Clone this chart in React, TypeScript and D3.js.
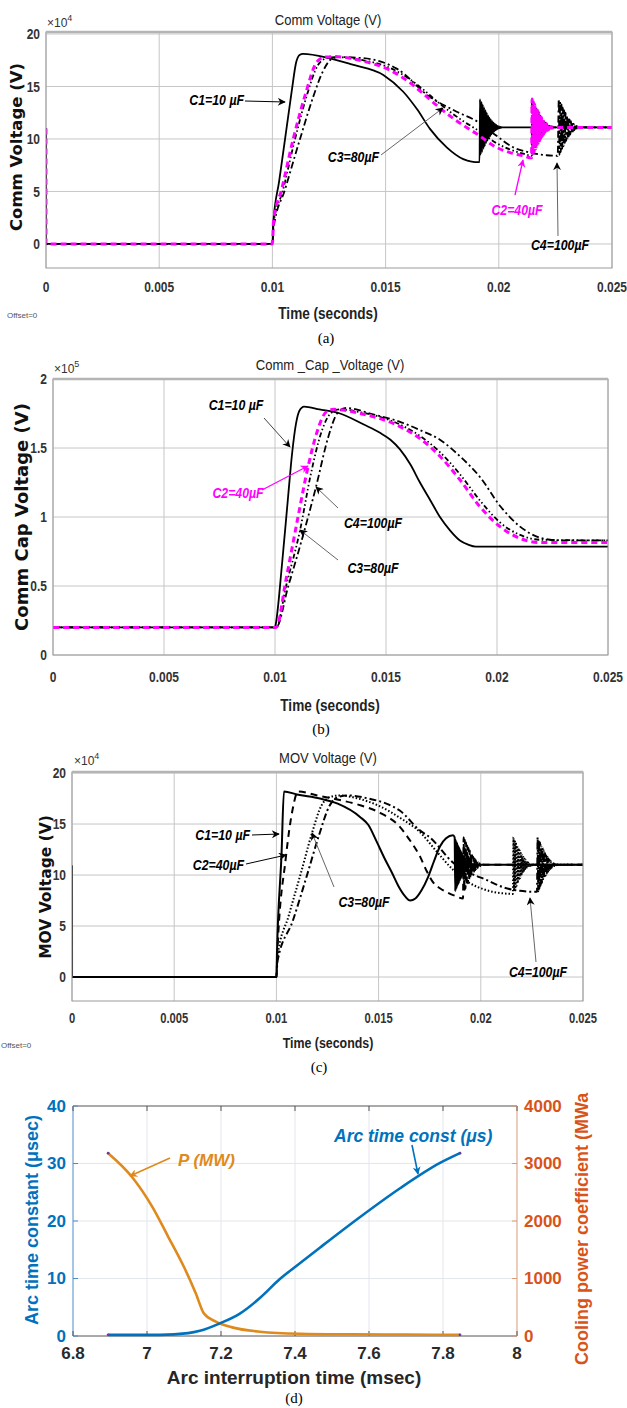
import React from 'react';
import * as d3 from 'd3';

// ---------------- DATA ----------------
// time in ms, values in axis units (×1e4 V for a/c, ×1e5 V for b)
const X_TICKS = [0, 0.005, 0.01, 0.015, 0.02, 0.025];
const X_TICK_LABELS = ['0', '0.005', '0.01', '0.015', '0.02', '0.025'];

// Panel (a) Comm Voltage
const A_Y_TICKS = [0, 5, 10, 15, 20];
const A_C1_T = [0, 0.001, 10.0, 10.04, 10.3, 10.56, 10.85, 11.05, 11.2, 11.35, 12.5, 13.5, 14.9, 15.78, 16.4, 16.96, 17.7, 18.43, 18.8, 19.1, 19.15];
const A_C1_V = [11, 0, 0, 2.0, 6.0, 10.0, 14.5, 17.3, 18.0, 18.1, 17.7, 17.1, 16.1, 14.5, 12.8, 10.96, 9.2, 8.08, 7.85, 7.8, 7.8];
const A_C2_T = [0, 0.001, 10.0, 10.05, 10.41, 10.92, 11.45, 11.95, 12.3, 12.75, 14.02, 15.05, 15.93, 16.67, 17.26, 17.84, 18.43, 19.02, 19.9, 20.5, 21.08, 21.45];
const A_C2_V = [11, 0, 0, 2.2, 5.2, 10.0, 14.2, 17.3, 17.8, 17.85, 17.4, 16.7, 15.6, 14.3, 13.2, 12.2, 11.3, 10.5, 9.2, 8.7, 8.4, 8.2];
const A_C3_T = [0, 0.001, 10.0, 10.05, 10.45, 11.0, 11.5, 12.0, 12.4, 12.8, 14.0, 15.05, 15.93, 16.67, 17.26, 17.84, 18.43, 19.02, 19.9, 20.5, 21.08, 21.45];
const A_C3_V = [11, 0, 0, 2.0, 5.0, 10.0, 14.0, 17.0, 17.7, 17.8, 17.5, 16.9, 15.9, 14.7, 13.6, 12.6, 11.7, 10.9, 9.6, 9.0, 8.6, 8.4];
const A_C4_T = [0, 0.001, 10.0, 10.05, 10.56, 11.22, 11.8, 12.2, 12.6, 12.9, 14.02, 15.49, 16.96, 18.14, 19.1, 19.9, 20.64, 21.38, 22.1, 22.6];
const A_C4_V = [11, 0, 0, 1.5, 5.2, 10.0, 14.0, 16.3, 17.6, 17.8, 17.7, 16.7, 14.0, 12.6, 11.6, 10.3, 9.2, 8.7, 8.45, 8.4];
const A_BURST_T = [19.17, 21.47, 21.47, 22.65]; // C1..C4 ringing onsets (ms)
const A_SETTLE = 11.1;

// Panel (b) Comm Cap Voltage
const B_Y_TICKS = [0, 0.5, 1, 1.5, 2];
const B_Y_TICK_LABELS = ['0', '0.5', '1', '1.5', '2'];
const B_C1_T = [0, 10.0, 10.01, 10.32, 10.59, 10.77, 10.95, 11.1, 11.31, 12.0, 12.93, 14.0, 14.73, 15.2, 15.63, 16.1, 16.53, 17.0, 17.43, 17.9, 18.33, 18.7, 19.05, 25];
const B_C1_V = [0.2, 0.2, 0.205, 0.665, 1.147, 1.46, 1.68, 1.77, 1.8, 1.78, 1.75, 1.67, 1.61, 1.56, 1.49, 1.38, 1.25, 1.12, 1.0, 0.9, 0.83, 0.8, 0.785, 0.785];
const B_C2_T = [0, 10.0, 10.05, 10.5, 11.0, 11.49, 11.9, 12.3, 12.66, 13.83, 15.63, 16.6, 17.43, 18.33, 19.23, 20.14, 21.04, 21.94, 25];
const B_C2_V = [0.2, 0.2, 0.2, 0.55, 0.97, 1.365, 1.62, 1.76, 1.78, 1.75, 1.655, 1.56, 1.44, 1.27, 1.075, 0.93, 0.845, 0.815, 0.815];
const B_C3_T = [0, 10.0, 10.05, 10.5, 11.13, 11.6, 12.1, 12.5, 12.9, 13.83, 15.63, 16.6, 17.43, 18.33, 19.23, 20.14, 21.04, 21.94, 25];
const B_C3_V = [0.2, 0.2, 0.2, 0.5, 0.906, 1.3, 1.62, 1.75, 1.78, 1.76, 1.67, 1.58, 1.47, 1.31, 1.12, 0.96, 0.87, 0.835, 0.83];
const B_C4_T = [0, 10.0, 10.05, 10.6, 11.2, 11.85, 12.4, 12.8, 13.2, 14.5, 15.63, 16.53, 17.43, 18.33, 19.23, 20.14, 21.04, 21.94, 22.8, 25];
const B_C4_V = [0.2, 0.2, 0.2, 0.5, 0.83, 1.22, 1.58, 1.75, 1.79, 1.74, 1.69, 1.63, 1.56, 1.44, 1.29, 1.08, 0.93, 0.85, 0.83, 0.83];

// Panel (c) MOV Voltage
const C_Y_TICKS = [0, 5, 10, 15, 20];
const C_C1_T = [0, 0.001, 10.0, 10.03, 10.25, 10.37, 11.0, 12.13, 13.0, 14.09, 14.5, 14.9, 15.3, 15.66, 16.0, 16.3, 16.54, 16.8, 17.1, 17.42, 17.7, 18.0, 18.3, 18.64];
const C_C1_V = [10.9, 0, 0, 2.5, 12.0, 18.2, 17.9, 17.5, 17.0, 15.7, 14.9, 13.3, 11.6, 10.2, 8.8, 7.9, 7.5, 7.7, 8.5, 9.8, 11.3, 12.8, 13.6, 13.9];
const C_C2_T = [0, 0.001, 10.0, 10.05, 10.45, 10.8, 11.06, 12.0, 13.11, 14.0, 15.07, 16.05, 16.5, 17.03, 17.35, 17.66, 18.0, 18.35, 18.75, 19.13];
const C_C2_V = [10.9, 0, 0, 2.5, 11.5, 16.5, 18.2, 17.8, 17.35, 16.9, 16.1, 14.7, 13.5, 11.8, 10.4, 9.3, 8.7, 8.3, 7.95, 7.7];
const C_C3_T = [0, 0.001, 10.0, 10.05, 10.6, 11.2, 11.74, 12.2, 12.7, 13.1, 14.0, 15.0, 16.05, 17.03, 17.8, 18.65, 19.47, 20.3, 21.1, 21.57];
const C_C3_V = [10.9, 0, 0, 2.0, 6.0, 10.2, 14.1, 16.8, 17.7, 17.8, 17.5, 16.8, 15.6, 14.2, 12.4, 10.5, 9.2, 8.5, 8.2, 8.15];
const C_C4_T = [0, 0.001, 10.0, 10.05, 10.8, 11.5, 12.1, 12.6, 13.1, 13.5, 14.5, 15.5, 16.05, 17.0, 17.5, 18.65, 19.47, 20.3, 21.1, 21.9, 22.75];
const C_C4_V = [10.9, 0, 0, 1.5, 5.5, 10.0, 14.0, 16.8, 17.7, 17.8, 17.5, 16.9, 16.3, 14.4, 13.7, 11.2, 10.2, 9.5, 8.8, 8.45, 8.35];
const C_BURST_T = [18.72, 19.16, 21.6, 22.78];
const C_SETTLE = 11.0;

// Ringing (deviation from settled value, ×1e4 V) read from the bursts
const RING = [2.7, -2.6, 2.45, -2.35, 2.2, -2.05, 1.9, -1.8, 1.65, -1.5, 1.4, -1.28, 1.15, -1.05, 0.95, -0.85, 0.76, -0.68, 0.6, -0.52, 0.45, -0.39, 0.33, -0.28, 0.23, -0.19, 0.15, -0.12, 0.09, -0.07, 0.05, -0.03, 0.02, 0];
const RING_DT = 0.03; // ms

// Panel (d)
const D_X_TICKS = [6.8, 7, 7.2, 7.4, 7.6, 7.8, 8];
const D_YL_TICKS = [0, 10, 20, 30, 40];
const D_YR_TICKS = [0, 1000, 2000, 3000, 4000];
const D_TAU_X = [6.895, 6.95, 7.035, 7.111, 7.143, 7.197, 7.251, 7.305, 7.359, 7.414, 7.468, 7.576, 7.684, 7.792, 7.846];
const D_TAU_Y = [0.2, 0.2, 0.2, 0.5, 0.9, 2.2, 3.9, 6.6, 9.9, 12.7, 15.4, 20.7, 25.7, 30.1, 31.8];
const D_P_X = [6.895, 6.959, 7.014, 7.057, 7.1, 7.132, 7.154, 7.186, 7.23, 7.305, 7.414, 7.55, 7.7, 7.846];
const D_P_Y = [3180, 2770, 2250, 1730, 1200, 740, 390, 250, 150, 75, 40, 30, 25, 20];

// ---------------- HELPERS ----------------
const SANS = "'Liberation Sans', Arial, sans-serif";
const WIDE = "'DejaVu Sans', Verdana, sans-serif";
const SERIF = "'Liberation Serif', 'Times New Roman', serif";

type P = [number, number];
function build(T: number[], V: number[], burstT?: number, settle?: number): P[] {
  const pts: P[] = T.map((t, i) => [t, V[i]] as P);
  if (burstT != null && settle != null) {
    RING.forEach((r, i) => pts.push([burstT + i * RING_DT, settle + r]));
    pts.push([25, settle]);
  }
  return pts;
}

const Txt = (p: any) => {
  const { x, y, children, size = 14, weight = 'normal', italic = false, fill = '#000', anchor = 'middle', sx = 1, rot = 0, family = SANS } = p;
  return (
    <text transform={`translate(${x},${y}) rotate(${rot}) scale(${sx},1)`} fontSize={size} fontWeight={weight}
      fontStyle={italic ? 'italic' : 'normal'} fill={fill} textAnchor={anchor} fontFamily={family} dy="0.35em">
      {children}
    </text>
  );
};

const Arrow = ({ x1, y1, x2, y2, stroke = '#000', head = 'k', w = 1 }: any) => (
  <line x1={x1} y1={y1} x2={x2} y2={y2} stroke={stroke} strokeWidth={w} markerEnd={`url(#ah-${head})`} />
);

type Style = { stroke: string; w: number; dash?: string };

function ScopePanel(props: any) {
  const { id, xr, yd, yr, yTicks, yLabels, series, styles, order } = props;
  const xs = d3.scaleLinear().domain([0, 0.025]).range(xr);
  const ys = d3.scaleLinear().domain(yd).range(yr);
  const line = d3.line<P>().x(d => xs(d[0] / 1000)).y(d => ys(d[1])).curve(d3.curveMonotoneX);
  const [x0, x1] = xr; const [yb, yt] = yr;
  return (
    <g>
      <defs><clipPath id={`clip-${id}`}><rect x={x0} y={yt} width={x1 - x0} height={yb - yt} /></clipPath></defs>
      <rect x={x0} y={yt} width={x1 - x0} height={yb - yt} fill="#fff" />
      {X_TICKS.map((t, i) => <line key={'gx' + i} x1={xs(t)} x2={xs(t)} y1={yt} y2={yb} stroke="#c6c6c6" strokeWidth={1} />)}
      {yTicks.map((t: number, i: number) => <line key={'gy' + i} x1={x0} x2={x1} y1={ys(t)} y2={ys(t)} stroke="#c6c6c6" strokeWidth={1} />)}
      <g clipPath={`url(#clip-${id})`}>
        {order.map((k: number) => {
          const s: Style = styles[k];
          return <path key={k} d={line(series[k]) || ''} fill="none" stroke={s.stroke} strokeWidth={s.w}
            strokeDasharray={s.dash} strokeLinejoin="round" />;
        })}
      </g>
      <rect x={x0} y={yt} width={x1 - x0} height={yb - yt} fill="none" stroke="#9a9a9a" strokeWidth={1} />
      <line x1={x0} x2={x1} y1={yt} y2={yt} stroke="#b4b4b4" strokeWidth={2.5} />
      {yTicks.map((t: number, i: number) => (
        <Txt key={'yl' + i} x={x0 - 6} y={ys(t)} anchor="end" size={15} weight="bold" sx={0.8} fill="#333">{yLabels[i]}</Txt>
      ))}
      {X_TICKS.map((t, i) => (
        <Txt key={'xl' + i} x={xs(t)} y={props.xTickY} size={props.tickSize || 15} weight="bold" sx={0.8} fill="#333">{X_TICK_LABELS[i]}</Txt>
      ))}
    </g>
  );
}

export default function App() {
  const W = 627, H = 1408;

  const aSeries = [
    build(A_C1_T, A_C1_V, A_BURST_T[0], A_SETTLE),
    build(A_C2_T, A_C2_V, A_BURST_T[1], A_SETTLE),
    build(A_C3_T, A_C3_V, A_BURST_T[2], A_SETTLE),
    build(A_C4_T, A_C4_V, A_BURST_T[3], A_SETTLE),
  ];
  const bSeries = [build(B_C1_T, B_C1_V), build(B_C2_T, B_C2_V), build(B_C3_T, B_C3_V), build(B_C4_T, B_C4_V)];
  const cSeries = [
    build(C_C1_T, C_C1_V, C_BURST_T[0], C_SETTLE),
    build(C_C2_T, C_C2_V, C_BURST_T[1], C_SETTLE),
    build(C_C3_T, C_C3_V, C_BURST_T[2], C_SETTLE),
    build(C_C4_T, C_C4_V, C_BURST_T[3], C_SETTLE),
  ];
  const abStyles: Style[] = [
    { stroke: '#000', w: 1.8 },
    { stroke: '#ff00ff', w: 3, dash: '6,4' },
    { stroke: '#000', w: 1.8, dash: '5,2.5,1.5,2.5,1.5,2.5' },
    { stroke: '#000', w: 1.8, dash: '7,3,2,3' },
  ];
  const cStyles: Style[] = [
    { stroke: '#000', w: 2 },
    { stroke: '#000', w: 2, dash: '7,5' },
    { stroke: '#000', w: 2, dash: '1.5,2' },
    { stroke: '#000', w: 2, dash: '7,3,2,3' },
  ];

  // panel d
  const dx = d3.scaleLinear().domain([6.8, 8]).range([73, 517]);
  const dyL = d3.scaleLinear().domain([0, 40]).range([1336, 1106]);
  const dyR = d3.scaleLinear().domain([0, 4000]).range([1336, 1106]);
  const tau: P[] = D_TAU_X.map((x, i) => [x, D_TAU_Y[i]]);
  const pw: P[] = D_P_X.map((x, i) => [x, D_P_Y[i]]);
  const tauLine = d3.line<P>().x(d => dx(d[0])).y(d => dyL(d[1])).curve(d3.curveMonotoneX);
  const pLine = d3.line<P>().x(d => dx(d[0])).y(d => dyR(d[1])).curve(d3.curveMonotoneX);
  const BLUE = '#0072BD', ORANGE = '#DE8A1C', RED = '#D95319';

  return (
    <svg width={W} height={H} style={{ position: 'absolute', left: 0, top: 0, background: '#fff' }} xmlns="http://www.w3.org/2000/svg">
      <defs>
        {[['k', '#000'], ['m', '#ff00ff'], ['o', ORANGE], ['b', BLUE]].map(([k, c]) => (
          <marker key={k} id={`ah-${k}`} viewBox="0 0 10 10" refX="9" refY="5" markerWidth="9" markerHeight="8"
            markerUnits="userSpaceOnUse" orient="auto">
            <path d="M0,0 L10,5 L0,10 L3,5 Z" fill={c} />
          </marker>
        ))}
      </defs>
      <rect x={0} y={0} width={W} height={H} fill="#fff" />

      {/* ---------- (a) ---------- */}
      <Txt x={328} y={20} size={15} sx={0.87} fill="#222">Comm Voltage (V)</Txt>
      <text x={47} y={27} fontSize={12} fontFamily={SANS} fill="#333">×10<tspan dy={-6} fontSize={9}>4</tspan></text>
      <ScopePanel id="a" xr={[46, 612]} yd={[-2.29, 20.19]} yr={[268, 32]} yTicks={A_Y_TICKS} yLabels={A_Y_TICKS.map(String)}
        series={aSeries} styles={abStyles} order={[3, 2, 0, 1]} xTickY={287} />
      <Txt x={328} y={313} size={17} weight="bold" sx={0.8} fill="#222">Time (seconds)</Txt>
      <Txt x={7} y={315} size={8} anchor="start" fill="#555">Offset=0</Txt>
      <Txt x={326} y={338} size={15} family={SERIF}>(a)</Txt>
      <Txt x={16} y={147} size={16.5} weight="bold" family={WIDE} rot={-90} fill="#111">Comm Voltage (V)</Txt>
      <Txt x={244} y={100} size={14} weight="bold" italic anchor="end" sx={0.88}>C1=10 µF</Txt>
      <Arrow x1={245} y1={101} x2={285} y2={102} />
      <Txt x={379} y={157} size={14} weight="bold" italic anchor="end" sx={0.88}>C3=80µF</Txt>
      <Arrow x1={381} y1={155} x2={443} y2={108} stroke="#666" />
      <Txt x={517} y={210} size={14} weight="bold" italic sx={0.88} fill="#ff00ff">C2=40µF</Txt>
      <Arrow x1={515} y1={195} x2={523} y2={160} stroke="#ff00ff" head="m" w={1.3} />
      <Txt x={560} y={245} size={14} weight="bold" italic sx={0.88}>C4=100µF</Txt>
      <Arrow x1={558} y1={236} x2={557} y2={163} stroke="#666" />

      {/* ---------- (b) ---------- */}
      <Txt x={330} y={365} size={15} sx={0.87} fill="#222">Comm _Cap _Voltage (V)</Txt>
      <text x={54} y={373} fontSize={12} fontFamily={SANS} fill="#333">×10<tspan dy={-6} fontSize={9}>5</tspan></text>
      <ScopePanel id="b" xr={[53, 608]} yd={[0, 2]} yr={[655, 379]} yTicks={B_Y_TICKS} yLabels={B_Y_TICK_LABELS}
        series={bSeries} styles={abStyles} order={[3, 2, 0, 1]} xTickY={677} />
      <Txt x={330} y={705} size={17} weight="bold" sx={0.8} fill="#222">Time (seconds)</Txt>
      <Txt x={321} y={729} size={15} family={SERIF}>(b)</Txt>
      <Txt x={22} y={517} size={18} weight="bold" family={WIDE} rot={-90} fill="#111">Comm Cap Voltage (V)</Txt>
      <Txt x={236} y={405} size={14} weight="bold" italic sx={0.88}>C1=10 µF</Txt>
      <Arrow x1={264} y1={418} x2={290} y2={447} stroke="#444" />
      <Txt x={238} y={493} size={14} weight="bold" italic sx={0.88} fill="#ff00ff">C2=40µF</Txt>
      <Arrow x1={262} y1={490} x2={308} y2={466} stroke="#ff00ff" head="m" w={1.3} />
      <Txt x={373} y={523} size={14} weight="bold" italic sx={0.88}>C4=100µF</Txt>
      <Arrow x1={338} y1={508} x2={316} y2={487} stroke="#666" />
      <Txt x={373} y={568} size={14} weight="bold" italic sx={0.88}>C3=80µF</Txt>
      <Arrow x1={338} y1={560} x2={300} y2={530} stroke="#666" />

      {/* ---------- (c) ---------- */}
      <Txt x={328} y={758} size={15} sx={0.87} fill="#222">MOV Voltage (V)</Txt>
      <text x={74} y={765} fontSize={12} fontFamily={SANS} fill="#333">×10<tspan dy={-6} fontSize={9}>4</tspan></text>
      <ScopePanel id="c" xr={[72, 583]} yd={[-2.35, 20.1]} yr={[1001, 772]} yTicks={C_Y_TICKS} yLabels={C_Y_TICKS.map(String)}
        series={cSeries} styles={cStyles} order={[3, 2, 1, 0]} xTickY={1018} tickSize={14} />
      <Txt x={328} y={1043} size={15.5} weight="bold" sx={0.8} fill="#222">Time (seconds)</Txt>
      <Txt x={1} y={1045} size={8} anchor="start" fill="#555">Offset=0</Txt>
      <Txt x={319} y={1067} size={15} family={SERIF}>(c)</Txt>
      <Txt x={46} y={887} size={15.5} weight="bold" family={WIDE} rot={-90} fill="#111">MOV Voltage (V)</Txt>
      <Txt x={250} y={835} size={14} weight="bold" italic anchor="end" sx={0.88}>C1=10 µF</Txt>
      <Arrow x1={252} y1={835} x2={279} y2={834} />
      <Txt x={244} y={865} size={14} weight="bold" italic anchor="end" sx={0.88}>C2=40µF</Txt>
      <Arrow x1={246} y1={864} x2={286} y2={855} />
      <Txt x={364} y={902} size={14} weight="bold" italic sx={0.88}>C3=80µF</Txt>
      <Arrow x1={334} y1={887} x2={312} y2={833} stroke="#666" />
      <Txt x={538} y={972} size={14} weight="bold" italic sx={0.88}>C4=100µF</Txt>
      <Arrow x1={536} y1={962} x2={530} y2={898} stroke="#666" />

      {/* ---------- (d) ---------- */}
      <rect x={73} y={1106} width={444} height={230} fill="#fff" />
      {D_X_TICKS.slice(1, -1).map((t, i) => <line key={'dgx' + i} x1={dx(t)} x2={dx(t)} y1={1106} y2={1336} stroke="#e2e7ec" />)}
      {D_YL_TICKS.slice(1, -1).map((t, i) => <line key={'dgy' + i} x1={73} x2={517} y1={dyL(t)} y2={dyL(t)} stroke="#e2e7ec" />)}
      <line x1={73} x2={517} y1={1106} y2={1106} stroke="#555" />
      <line x1={73} x2={517} y1={1336} y2={1336} stroke="#555" />
      <line x1={73} x2={73} y1={1106} y2={1336} stroke="#4a8ccb" />
      <line x1={517} x2={517} y1={1106} y2={1336} stroke="#d99a78" />
      {D_X_TICKS.map((t, i) => (
        <g key={'dtx' + i}>
          <line x1={dx(t)} x2={dx(t)} y1={1336} y2={1331} stroke="#555" />
          <line x1={dx(t)} x2={dx(t)} y1={1106} y2={1111} stroke="#555" />
          <Txt x={dx(t)} y={1353} size={17} weight="bold" fill="#2a2a2a">{String(t)}</Txt>
        </g>
      ))}
      {D_YL_TICKS.map((t, i) => (
        <g key={'dtl' + i}>
          <line x1={73} x2={78} y1={dyL(t)} y2={dyL(t)} stroke="#4a8ccb" />
          <Txt x={66} y={dyL(t)} size={17} weight="bold" anchor="end" fill={BLUE}>{String(t)}</Txt>
        </g>
      ))}
      {D_YR_TICKS.map((t, i) => (
        <g key={'dtr' + i}>
          <line x1={512} x2={517} y1={dyR(t)} y2={dyR(t)} stroke="#d99a78" />
          <Txt x={524} y={dyR(t)} size={17} weight="bold" anchor="start" fill={RED}>{String(t)}</Txt>
        </g>
      ))}
      <path d={pLine(pw) || ''} fill="none" stroke={ORANGE} strokeWidth={2.6} />
      <path d={tauLine(tau) || ''} fill="none" stroke={BLUE} strokeWidth={2.6} />
      {[pw[0], pw[pw.length - 1]].map((d, i) => <circle key={'pm' + i} cx={dx(d[0])} cy={dyR(d[1])} r={1.4} fill="#6a3aa0" />)}
      {[tau[0], tau[tau.length - 1]].map((d, i) => <circle key={'tm' + i} cx={dx(d[0])} cy={dyL(d[1])} r={1.4} fill="#6a3aa0" />)}
      <Txt x={178} y={1160} size={17} weight="bold" italic anchor="start" fill={ORANGE}>P (MW)</Txt>
      <Arrow x1={170} y1={1158} x2={130} y2={1176} stroke={ORANGE} head="o" w={1.6} />
      <Txt x={334} y={1136} size={17.5} weight="bold" italic anchor="start" fill={BLUE}>Arc time const (μs)</Txt>
      <Arrow x1={412} y1={1145} x2={418} y2={1174} stroke={BLUE} head="b" w={1.6} />
      <Txt x={294} y={1377} size={19} weight="bold" fill="#262626">Arc interruption time (msec)</Txt>
      <Txt x={294} y={1398} size={15} family={SERIF}>(d)</Txt>
      <Txt x={32} y={1220} size={18} weight="bold" rot={-90} fill={BLUE}>Arc time constant (μsec)</Txt>
      <Txt x={582} y={1365} size={18} weight="bold" rot={-90} anchor="start" fill={RED}>Cooling power coefficient (MWa</Txt>
    </svg>
  );
}
